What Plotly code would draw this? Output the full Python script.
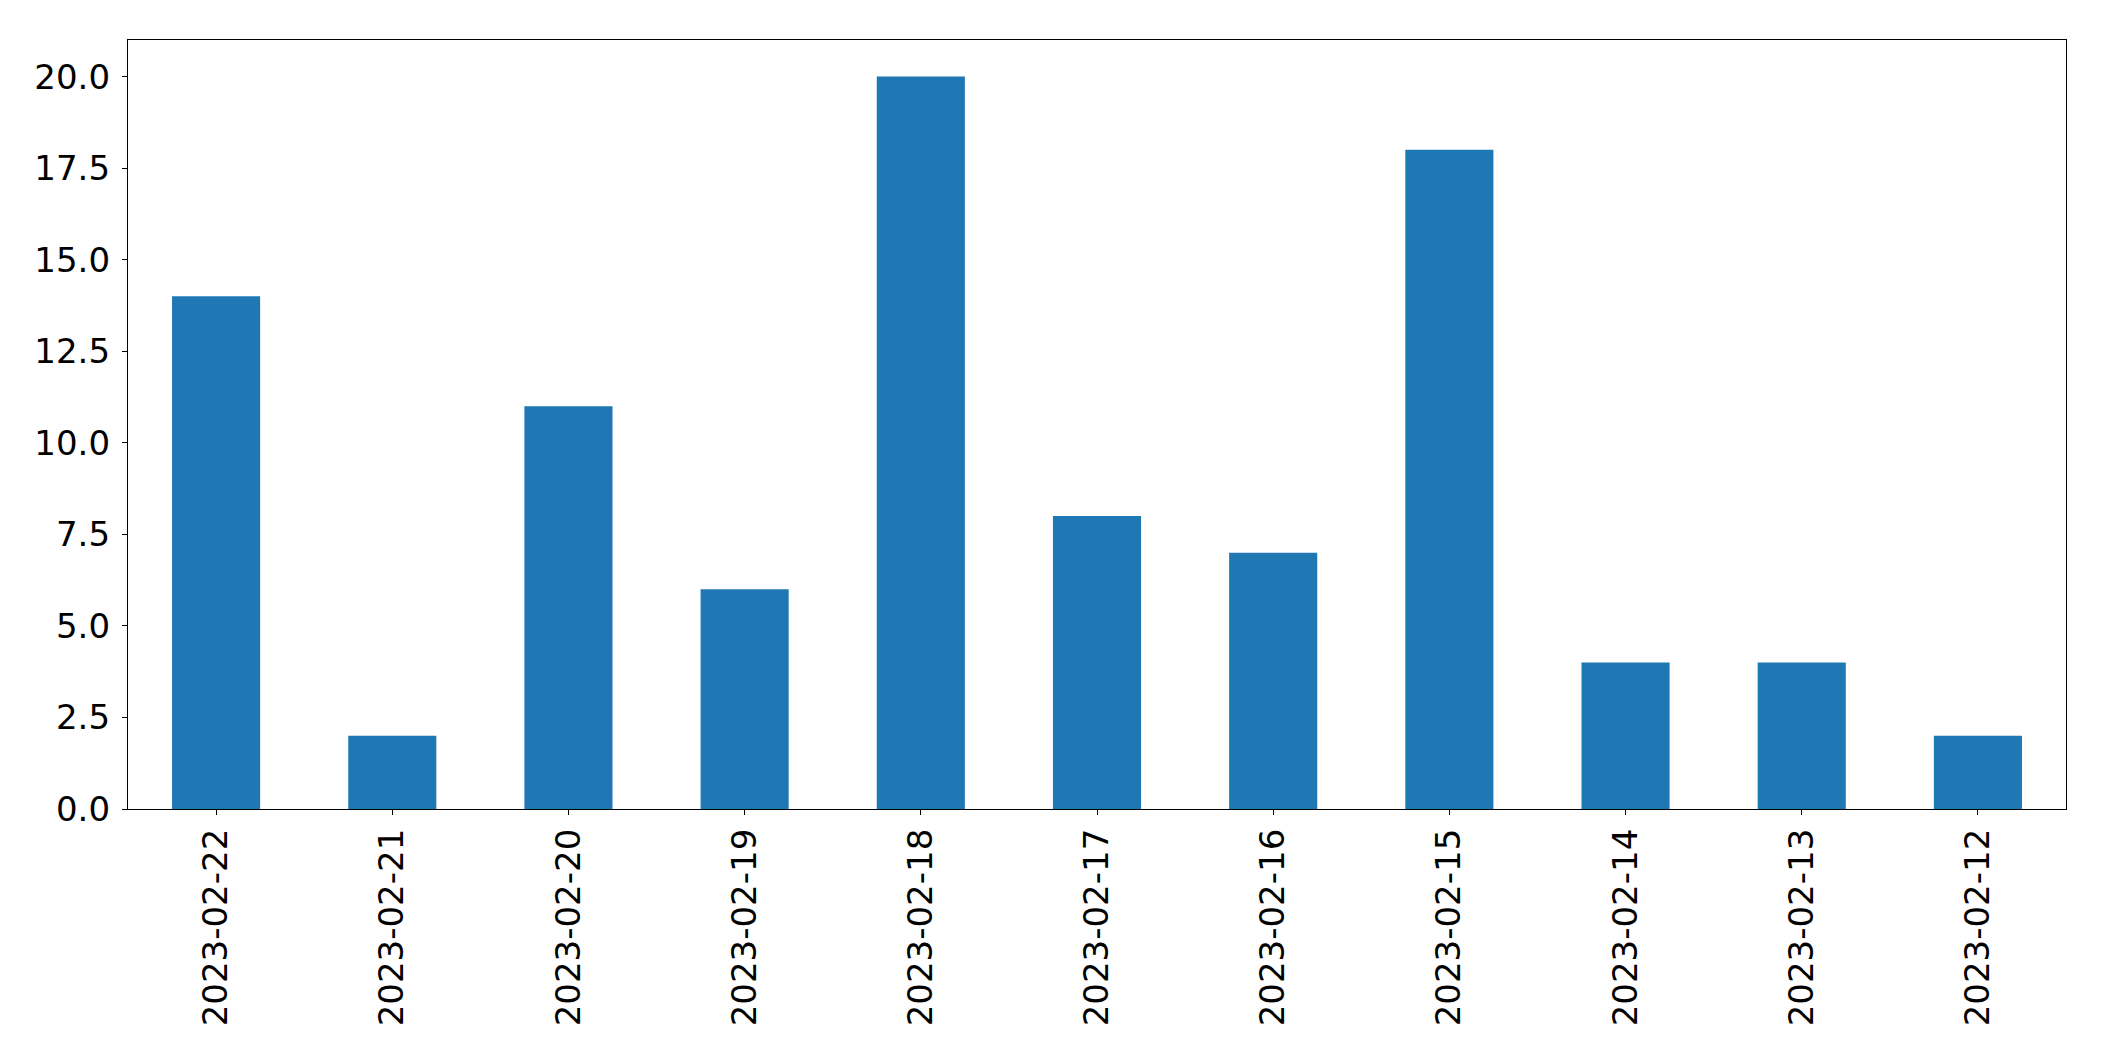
import plotly.graph_objects as go

dates = ["2023-02-22", "2023-02-21", "2023-02-20", "2023-02-19", "2023-02-18",
         "2023-02-17", "2023-02-16", "2023-02-15", "2023-02-14", "2023-02-13", "2023-02-12"]
counts = [14, 2, 11, 6, 20, 8, 7, 18, 4, 4, 2]
y_ticks = [0, 2.5, 5, 7.5, 10, 12.5, 15, 17.5, 20]
y_tick_labels = ["0.0", "2.5", "5.0", "7.5", "10.0", "12.5", "15.0", "17.5", "20.0"]

fig = go.Figure(go.Bar(x=dates, y=counts, marker=dict(color="#1f77b4", line=dict(width=0)), width=0.5))

font = dict(family="DejaVu Sans", size=34, color="black")
fig.update_layout(
    width=2104, height=1061,
    margin=dict(l=127.5, r=38.3, t=39.5, b=251.7),
    paper_bgcolor="white", plot_bgcolor="white",
    showlegend=False,
    font=font,
)
fig.update_xaxes(
    type="category", range=[-0.5, 10.5],
    showline=True, linecolor="black", linewidth=1.3, mirror=True,
    ticks="outside", ticklen=5, tickwidth=1.3, tickcolor="black",
    tickangle=-90, tickfont=font, showgrid=False, zeroline=False,
    ticklabelstandoff=0,
)
fig.update_yaxes(
    range=[0, 21], tickvals=y_ticks, ticktext=y_tick_labels,
    showline=True, linecolor="black", linewidth=1.3, mirror=True,
    ticks="outside", ticklen=5, tickwidth=1.3, tickcolor="black",
    tickfont=font, showgrid=False, zeroline=False,
    ticklabelstandoff=5,
)
fig.write_html("out.html", config={"displayModeBar": False},
               post_script="document.body.style.margin='0';document.body.style.padding='0';")
